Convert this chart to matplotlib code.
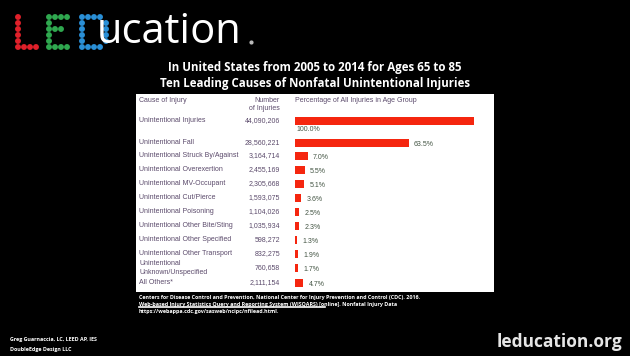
import matplotlib
matplotlib.use("Agg")
import matplotlib.pyplot as plt

# data
causes = ["Unintentional Injuries", "Unintentional Fall", "Unintentional Struck By/Against",
          "Unintentional Overexertion", "Unintentional MV-Occupant", "Unintentional Cut/Pierce",
          "Unintentional Poisoning", "Unintentional Other Bite/Sting", "Unintentional Other Specified",
          "Unintentional Other Transport", "Unintentional\nUnknown/Unspecified", "All Others*"]
injuries = [44090206, 28560221, 3164714, 2455169, 2305668, 1593075,
            1104026, 1035934, 598272, 832275, 760658, 2111154]
percent = [100.0, 63.5, 7.0, 5.5, 5.1, 3.6, 2.5, 2.3, 1.3, 1.9, 1.7, 4.7]

title_lines = ["In United States from 2005 to 2014 for Ages 65 to 85",
               "Ten Leading Causes of Nonfatal Unintentional Injuries"]
citation = ["Centers for Disease Control and Prevention, National Center for Injury Prevention and Control (CDC). 2016.",
            "Web-based Injury Statistics Query and Reporting System (WISQARS) [online]. Nonfatal Injury Data",
            "https://webappa.cdc.gov/sasweb/ncipc/nfilead.html."]
author = ["Greg Guarnaccia, LC, LEED AP, IES", "DoubleEdge Design LLC"]

# layout (pixels of the 630x356 picture)
W, H = 630, 356
row_y = [121, 143, 156, 170, 184, 198, 212, 226, 240, 254, 268, 283]
x0_px, px_per_pct = 295, 1.79
pan_l, pan_r, pan_t, pan_b = 136, 494, 94, 292

fig = plt.figure(figsize=(W / 100, H / 100), dpi=100)
fig.patch.set_facecolor("black")

bg = fig.add_axes([0, 0, 1, 1])
bg.set_xlim(0, W)
bg.set_ylim(H, 0)
bg.axis("off")

# LED dot-matrix logo
led = {
    "#e0202a": ["X...", "X...", "X...", "X...", "X...", "XXXX"],
    "#2fa84f": ["XXXX", "X...", "XXX.", "X...", "X...", "XXXX"],
    "#2a8fd6": ["XXXX.", "X...X", "X...X", "X...X", "X...X", "XXXX."],
}
x_start = [18, 49, 82]
for (col, pat), xs in zip(led.items(), x_start):
    px, py = [], []
    for r, line in enumerate(pat):
        for c, ch in enumerate(line):
            if ch == "X":
                px.append(xs + c * 6)
                py.append(17 + r * 6)
    bg.scatter(px, py, s=18, color=col, edgecolors="none")
bg.text(97, 32, "ucation", color="white", fontsize=30, family="Open Sans",
        ha="left", va="center")
bg.scatter([251], [42], s=4, color="#bbbbbb")

for i, t in enumerate(title_lines):
    bg.text(315, 67 + i * 16, t, color="white", fontsize=8.3, family="Open Sans",
            fontweight="bold", ha="center", va="center")

for i, t in enumerate(citation):
    bg.text(139, 297 + i * 7.3, t, color="white", fontsize=3.9, family="Open Sans",
            fontweight="bold", ha="left", va="center")
bg.plot([139, 325], [306.5, 306.5], color="white", lw=1.2)

for i, t in enumerate(author):
    bg.text(10, 339 + i * 10, t, color="white", fontsize=3.9, family="Open Sans",
            fontweight="bold", ha="left", va="center")

bg.text(622, 342, "leducation.org", color="#e6e6e6", fontsize=12.5, family="Open Sans",
        fontweight="bold", ha="right", va="center")

# white chart panel, x in percent units
ax = fig.add_axes([pan_l / W, 1 - pan_b / H, (pan_r - pan_l) / W, (pan_b - pan_t) / H])
ax.set_facecolor("white")
ax.set_xlim((pan_l - x0_px) / px_per_pct, (pan_r - x0_px) / px_per_pct)
ax.set_ylim(pan_b, pan_t)
for s in ax.spines.values():
    s.set_visible(False)
ax.set_xticks([])
ax.set_yticks([])

txt = "#5b4a6b"
tf = "Liberation Sans"
fs = 5.0
ax.barh(row_y, percent, height=8.5, left=0, color="#f5260f")

x_cause = (139 - x0_px) / px_per_pct
x_num = (280 - x0_px) / px_per_pct
ax.text(x_cause, 101, "Cause of Injury", color=txt, fontsize=fs, family=tf, va="center")
ax.text(x_num, 101, "Number", color=txt, fontsize=fs, family=tf, va="center", ha="right")
ax.text(x_num, 108.5, "of Injuries", color=txt, fontsize=fs, family=tf, va="center", ha="right")
ax.text(0, 101, "Percentage of All Injuries in Age Group", color=txt, fontsize=fs,
        family=tf, va="center")

for y, c, n, p in zip(row_y, causes, injuries, percent):
    ax.text(x_cause, y, c, color=txt, fontsize=fs, family=tf, va="center",
            linespacing=1.4)
    ax.text(x_num, y, f"{n:,}", color=txt, fontsize=fs, family=tf, va="center", ha="right")
    if p >= 99:
        ax.text(1, y + 9, f"{p:.1f}%", color="#445544", fontsize=fs, family=tf, va="center")
    else:
        ax.text(p + 3, y + 2, f"{p:.1f}%", color="#445544", fontsize=fs, family=tf,
                va="center")

fig.savefig("out.png", dpi=100, facecolor="black")
